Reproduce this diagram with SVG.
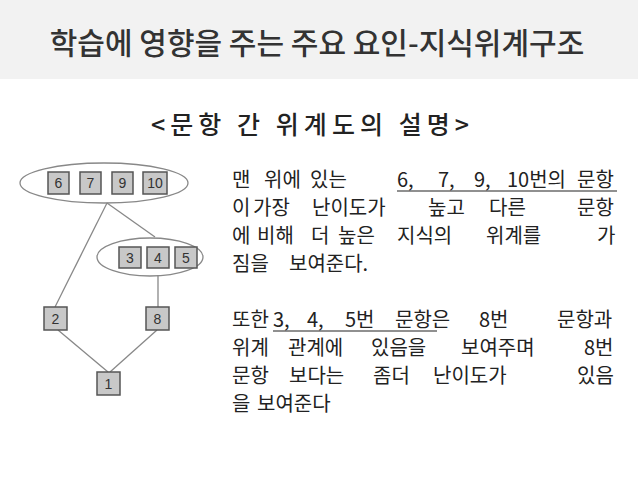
<svg xmlns="http://www.w3.org/2000/svg" width="638" height="479" viewBox="0 0 638 479">
<style>
.t{font-family:"Noto Sans CJK KR","Noto Sans",sans-serif;fill:#222}
.b{font-size:20px}
.bx{fill:#c8c8c8;stroke:#555;stroke-width:1.5}
.n{font-family:"Liberation Sans",sans-serif;font-size:14px;fill:#333;text-anchor:middle}
.e{fill:none;stroke:#888;stroke-width:1.3}
.c{stroke:#888;stroke-width:1.3;fill:none}
.u{stroke:#222;stroke-width:1.2}
</style>
<rect x="0" y="0" width="638" height="79" fill="#f2f2f2"/>
<text class="t" x="317" y="54" font-size="30" font-weight="500" text-anchor="middle" style="fill:#333">학습에 영향을 주는 주요 요인-지식위계구조</text>
<text class="t" x="151" y="134" font-size="25" font-weight="500" textLength="318" lengthAdjust="spacing">&lt;문항 간 위계도의 설명&gt;</text>
<g id="connectors">
<line class="c" x1="107" y1="203" x2="55" y2="307"/>
<line class="c" x1="107" y1="203" x2="155" y2="237"/>
<line class="c" x1="158" y1="275" x2="158" y2="307"/>
<line class="c" x1="58" y1="330" x2="108" y2="372"/>
<line class="c" x1="157" y1="330" x2="110" y2="372"/>
</g>
<g id="top-group">
<ellipse class="e" cx="104" cy="183" rx="84" ry="20"/>
<rect class="bx" x="48" y="172" width="21" height="22"/><text class="n" x="58.5" y="188">6</text>
<rect class="bx" x="80" y="172" width="21" height="22"/><text class="n" x="90.5" y="188">7</text>
<rect class="bx" x="112" y="172" width="21" height="22"/><text class="n" x="122.5" y="188">9</text>
<rect class="bx" x="143" y="172" width="24" height="22"/><text class="n" x="155" y="188">10</text>
</g>
<g id="mid-group">
<ellipse class="e" cx="150" cy="257" rx="53" ry="19"/>
<rect class="bx" x="119" y="247" width="22" height="21"/><text class="n" x="130" y="263">3</text>
<rect class="bx" x="147" y="247" width="22" height="21"/><text class="n" x="158" y="263">4</text>
<rect class="bx" x="175" y="247" width="22" height="21"/><text class="n" x="186" y="263">5</text>
</g>
<g id="n2"><rect class="bx" x="44" y="307" width="23" height="23"/><text class="n" x="55.5" y="324">2</text></g>
<g id="n8"><rect class="bx" x="146" y="307" width="23" height="23"/><text class="n" x="157.5" y="324">8</text></g>
<g id="n1"><rect class="bx" x="97" y="372" width="23" height="23"/><text class="n" x="108.5" y="389">1</text></g>
<g id="body" class="t b">
<text y="187"><tspan x="232">맨</tspan><tspan x="264">위에</tspan><tspan x="310">있는</tspan><tspan x="397">6,</tspan><tspan x="438">7,</tspan><tspan x="474">9,</tspan><tspan x="507">10번의</tspan><tspan x="577">문항</tspan></text>
<text y="215"><tspan x="232">이</tspan><tspan x="253">가장</tspan><tspan x="312">난이도가</tspan><tspan x="428">높고</tspan><tspan x="489">다른</tspan><tspan x="577">문항</tspan></text>
<text y="243"><tspan x="232">에</tspan><tspan x="257">비해</tspan><tspan x="311">더</tspan><tspan x="338">높은</tspan><tspan x="397">지식의</tspan><tspan x="486">위계를</tspan><tspan x="597">가</tspan></text>
<text y="271"><tspan x="232">짐을</tspan><tspan x="289">보여준다.</tspan></text>
<text y="327"><tspan x="232">또한</tspan><tspan x="273">3,</tspan><tspan x="307">4,</tspan><tspan x="345">5번</tspan><tspan x="395">문항은</tspan><tspan x="479">8번</tspan><tspan x="557">문항과</tspan></text>
<text y="355"><tspan x="232">위계</tspan><tspan x="288">관계에</tspan><tspan x="371">있음을</tspan><tspan x="461">보여주며</tspan><tspan x="584">8번</tspan></text>
<text y="383"><tspan x="232">문항</tspan><tspan x="289">보다는</tspan><tspan x="373">좀더</tspan><tspan x="433">난이도가</tspan><tspan x="577">있음</tspan></text>
<text y="411"><tspan x="232">을</tspan><tspan x="257">보여준다</tspan></text>
</g>
<line class="u" x1="397" y1="191" x2="617" y2="191"/>
<line class="u" x1="273" y1="331" x2="437" y2="331"/>
</svg>
